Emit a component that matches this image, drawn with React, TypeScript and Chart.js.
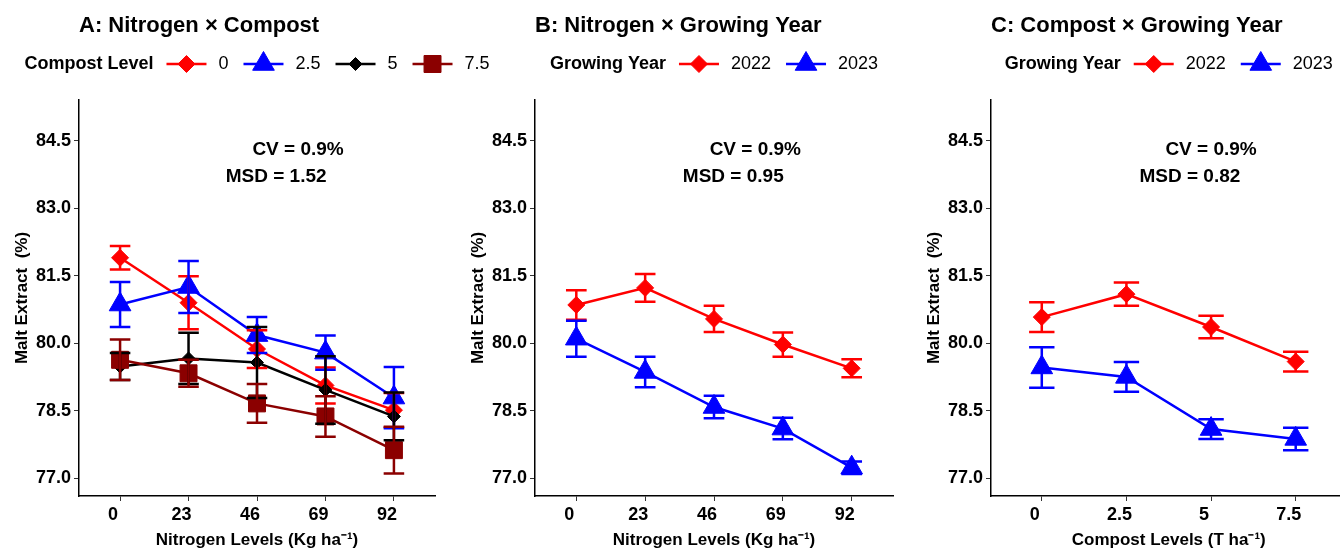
import React, { useEffect, useRef } from 'react';
import { Chart, registerables } from 'chart.js';
import { drawPoint } from 'chart.js/helpers';

Chart.register(...registerables);

const FONT = '"Liberation Sans", Arial, Helvetica, sans-serif';

// categories
const nitrogenLevels = ['0', '23', '46', '69', '92'];
const compostLevels = ['0', '2.5', '5', '7.5'];
const growingYears = ['2022', '2023'];
const yTicks = [77.0, 78.5, 80.0, 81.5, 83.0, 84.5];

// A: Nitrogen x Compost (mean, error)
const compost0Mean = [81.9, 80.9, 79.87, 79.06, 78.51];
const compost0Err = [0.26, 0.59, 0.42, 0.4, 0.38];
const compost25Mean = [80.86, 81.25, 80.18, 79.79, 78.79];
const compost25Err = [0.5, 0.58, 0.4, 0.38, 0.68];
const compost5Mean = [79.48, 79.66, 79.57, 78.96, 78.37];
const compost5Err = [0.3, 0.57, 0.79, 0.75, 0.53];
const compost75Mean = [79.63, 79.33, 78.66, 78.37, 77.62];
const compost75Err = [0.45, 0.3, 0.43, 0.45, 0.52];

// B: Nitrogen x Growing Year
const nYear2022Mean = [80.85, 81.23, 80.54, 79.97, 79.44];
const nYear2022Err = [0.33, 0.31, 0.29, 0.27, 0.2];
const nYear2023Mean = [80.1, 79.36, 78.58, 78.1, 77.23];
const nYear2023Err = [0.4, 0.34, 0.25, 0.24, 0.14];

// C: Compost x Growing Year
const cYear2022Mean = [80.58, 81.09, 80.36, 79.59];
const cYear2022Err = [0.33, 0.26, 0.25, 0.22];
const cYear2023Mean = [79.46, 79.25, 78.09, 77.87];
const cYear2023Err = [0.45, 0.33, 0.22, 0.25];

interface Series {
  label: string;
  color: string;
  style: 'rectRot' | 'triangle' | 'rect';
  radius: number;
  mean: number[];
  err: number[];
}

interface PanelProps {
  title: string;
  legendTitle: string;
  xTitle: string;
  categories: string[];
  series: Series[];
  cv: string;
  msd: string;
  cvX: number;
  msdX: number;
  offsetLeft: number;
  areaRight: number;
}

const CANVAS_W = 1360;
const CANVAS_H = 552;

const Panel: React.FC<PanelProps> = (p) => {
  const canvasRef = useRef<HTMLCanvasElement>(null);

  useEffect(() => {
    if (!canvasRef.current) return;
    const ctx = canvasRef.current.getContext('2d');
    if (!ctx) return;

    const errorBars = {
      id: 'errorBars',
      afterDatasetsDraw(chart: any) {
        const { ctx, scales } = chart;
        const x = scales.x;
        const y = scales.y;
        ctx.save();
        ctx.lineWidth = 2.5;
        p.series.forEach((s) => {
          ctx.strokeStyle = s.color;
          s.mean.forEach((m, j) => {
            const px = x.getPixelForValue(j);
            const half = x.getPixelForValue(j + 0.15) - px;
            const top = y.getPixelForValue(m + s.err[j]);
            const bot = y.getPixelForValue(m - s.err[j]);
            ctx.beginPath();
            ctx.moveTo(px, top);
            ctx.lineTo(px, bot);
            ctx.moveTo(px - half, top);
            ctx.lineTo(px + half, top);
            ctx.moveTo(px - half, bot);
            ctx.lineTo(px + half, bot);
            ctx.stroke();
          });
        });
        ctx.restore();
      },
    };

    const decorations = {
      id: 'decorations',
      afterDraw(chart: any) {
        const { ctx, chartArea, scales } = chart;
        ctx.save();
        ctx.fillStyle = '#000';

        // panel title
        ctx.font = `bold 22px ${FONT}`;
        ctx.textAlign = 'left';
        ctx.textBaseline = 'alphabetic';
        ctx.fillText(p.title, chartArea.left, 32);

        // legend
        const keyW = 40;
        const gapTitle = 13;
        const gapLabel = 12;
        const gapItem = 15;
        ctx.font = `bold 18px ${FONT}`;
        const titleW = ctx.measureText(p.legendTitle).width;
        ctx.font = `18px ${FONT}`;
        const labelWs = p.series.map((s) => ctx.measureText(s.label).width);
        let total = titleW + gapTitle;
        labelWs.forEach((w, i) => {
          total += keyW + gapLabel + w + (i < labelWs.length - 1 ? gapItem : 0);
        });
        let cx = (chartArea.left + chartArea.right) / 2 - total / 2;
        const cy = 64;
        ctx.textBaseline = 'middle';
        ctx.font = `bold 18px ${FONT}`;
        ctx.fillText(p.legendTitle, cx, cy);
        cx += titleW + gapTitle;
        ctx.font = `18px ${FONT}`;
        p.series.forEach((s, i) => {
          ctx.strokeStyle = s.color;
          ctx.fillStyle = s.color;
          ctx.lineWidth = 2.5;
          ctx.beginPath();
          ctx.moveTo(cx, cy);
          ctx.lineTo(cx + keyW, cy);
          ctx.stroke();
          ctx.lineWidth = 1;
          drawPoint(ctx, { pointStyle: s.style, rotation: 0, radius: s.radius, borderWidth: 1 }, cx + keyW / 2, cy);
          cx += keyW + gapLabel;
          ctx.fillStyle = '#000';
          ctx.fillText(s.label, cx, cy);
          cx += labelWs[i] + gapItem;
        });

        // CV / MSD annotation
        ctx.fillStyle = '#000';
        ctx.font = `bold 19px ${FONT}`;
        ctx.textAlign = 'center';
        ctx.textBaseline = 'middle';
        ctx.fillText(p.cv, scales.x.getPixelForValue(p.cvX), scales.y.getPixelForValue(84.3));
        ctx.fillText(p.msd, scales.x.getPixelForValue(p.msdX), scales.y.getPixelForValue(83.7));
        ctx.restore();
      },
    };

    const n = p.series.length;
    const chart = new Chart(ctx, {
      type: 'line',
      data: {
        datasets: p.series.map((s, i) => ({
          label: s.label,
          data: s.mean.map((v, j) => ({ x: j, y: v })),
          borderColor: s.color,
          backgroundColor: s.color,
          borderWidth: 2.5,
          tension: 0,
          pointStyle: s.style,
          pointRadius: s.radius,
          pointHoverRadius: s.radius,
          pointBorderWidth: 1,
          pointBackgroundColor: s.color,
          pointBorderColor: s.color,
          order: n - i,
        })),
      },
      options: {
        animation: false,
        responsive: true,
        maintainAspectRatio: false,
        events: [],
        layout: {
          padding: { left: p.offsetLeft, right: CANVAS_W - p.areaRight, top: 100, bottom: 0 },
        },
        plugins: {
          legend: { display: false },
          title: { display: false },
          tooltip: { enabled: false },
        },
        scales: {
          x: {
            type: 'linear',
            min: -0.6,
            max: p.categories.length - 0.4,
            afterBuildTicks: (scale: any) => {
              scale.ticks = p.categories.map((_, i) => ({ value: i }));
            },
            afterFit: (scale: any) => {
              scale.height = 56;
            },
            ticks: {
              callback: (_v: any, i: number) => p.categories[i],
              font: { family: FONT, size: 18, weight: 'bold' },
              color: '#000',
              labelOffset: -7,
              padding: 3,
              maxRotation: 0,
              autoSkip: false,
            },
            grid: { display: true, drawOnChartArea: false, drawTicks: true, tickLength: 5, color: '#333' },
            border: { display: true, color: '#000', width: 1.5 },
            title: {
              display: true,
              text: p.xTitle,
              font: { family: FONT, size: 17, weight: 'bold' },
              color: '#000',
              padding: { top: 0, bottom: 1 },
            },
          },
          y: {
            type: 'linear',
            min: 76.6,
            max: 85.41,
            afterBuildTicks: (scale: any) => {
              scale.ticks = yTicks.map((v) => ({ value: v }));
            },
            afterFit: (scale: any) => {
              scale.width = 79;
            },
            ticks: {
              callback: (v: any) => Number(v).toFixed(1),
              font: { family: FONT, size: 18, weight: 'bold' },
              color: '#000',
              padding: 3,
            },
            grid: { display: true, drawOnChartArea: false, drawTicks: true, tickLength: 5, color: '#333' },
            border: { display: true, color: '#000', width: 1.5 },
            title: {
              display: true,
              text: 'Malt Extract  (%)',
              font: { family: FONT, size: 17, weight: 'bold' },
              color: '#000',
              padding: { top: 12, bottom: 0 },
            },
          },
        },
      } as any,
      plugins: [errorBars, decorations],
    });

    return () => {
      chart.destroy();
    };
  }, [p]);

  return (
    <div style={{ position: 'absolute', left: 0, top: 0, width: CANVAS_W, height: CANVAS_H }}>
      <canvas ref={canvasRef}></canvas>
    </div>
  );
};

const panelA: PanelProps = {
  title: 'A: Nitrogen × Compost',
  legendTitle: 'Compost Level',
  xTitle: 'Nitrogen Levels (Kg ha⁻¹)',
  categories: nitrogenLevels,
  series: [
    { label: compostLevels[0], color: '#FF0000', style: 'rectRot', radius: 8.5, mean: compost0Mean, err: compost0Err },
    { label: compostLevels[1], color: '#0000FF', style: 'triangle', radius: 12.5, mean: compost25Mean, err: compost25Err },
    { label: compostLevels[2], color: '#000000', style: 'rectRot', radius: 6.5, mean: compost5Mean, err: compost5Err },
    { label: compostLevels[3], color: '#8B0000', style: 'rect', radius: 12, mean: compost75Mean, err: compost75Err },
  ],
  cv: 'CV = 0.9%',
  msd: 'MSD = 1.52',
  cvX: 2.6,
  msdX: 2.28,
  offsetLeft: 0,
  areaRight: 435,
};

const panelB: PanelProps = {
  title: 'B: Nitrogen × Growing Year',
  legendTitle: 'Growing Year',
  xTitle: 'Nitrogen Levels (Kg ha⁻¹)',
  categories: nitrogenLevels,
  series: [
    { label: growingYears[0], color: '#FF0000', style: 'rectRot', radius: 8.5, mean: nYear2022Mean, err: nYear2022Err },
    { label: growingYears[1], color: '#0000FF', style: 'triangle', radius: 12.5, mean: nYear2023Mean, err: nYear2023Err },
  ],
  cv: 'CV = 0.9%',
  msd: 'MSD = 0.95',
  cvX: 2.6,
  msdX: 2.28,
  offsetLeft: 456,
  areaRight: 893,
};

const panelC: PanelProps = {
  title: 'C: Compost × Growing Year',
  legendTitle: 'Growing Year',
  xTitle: 'Compost Levels (T ha⁻¹)',
  categories: compostLevels,
  series: [
    { label: growingYears[0], color: '#FF0000', style: 'rectRot', radius: 8.5, mean: cYear2022Mean, err: cYear2022Err },
    { label: growingYears[1], color: '#0000FF', style: 'triangle', radius: 12.5, mean: cYear2023Mean, err: cYear2023Err },
  ],
  cv: 'CV = 0.9%',
  msd: 'MSD = 0.82',
  cvX: 2.0,
  msdX: 1.75,
  offsetLeft: 912,
  areaRight: 1348,
};

const App: React.FC = () => {
  useEffect(() => {
    document.body.style.margin = '0';
    document.body.style.background = '#fff';
  }, []);

  return (
    <div style={{ position: 'relative', width: 1340, height: 552, overflow: 'hidden', background: '#fff' }}>
      <Panel {...panelA} />
      <Panel {...panelB} />
      <Panel {...panelC} />
    </div>
  );
};

export default App;
